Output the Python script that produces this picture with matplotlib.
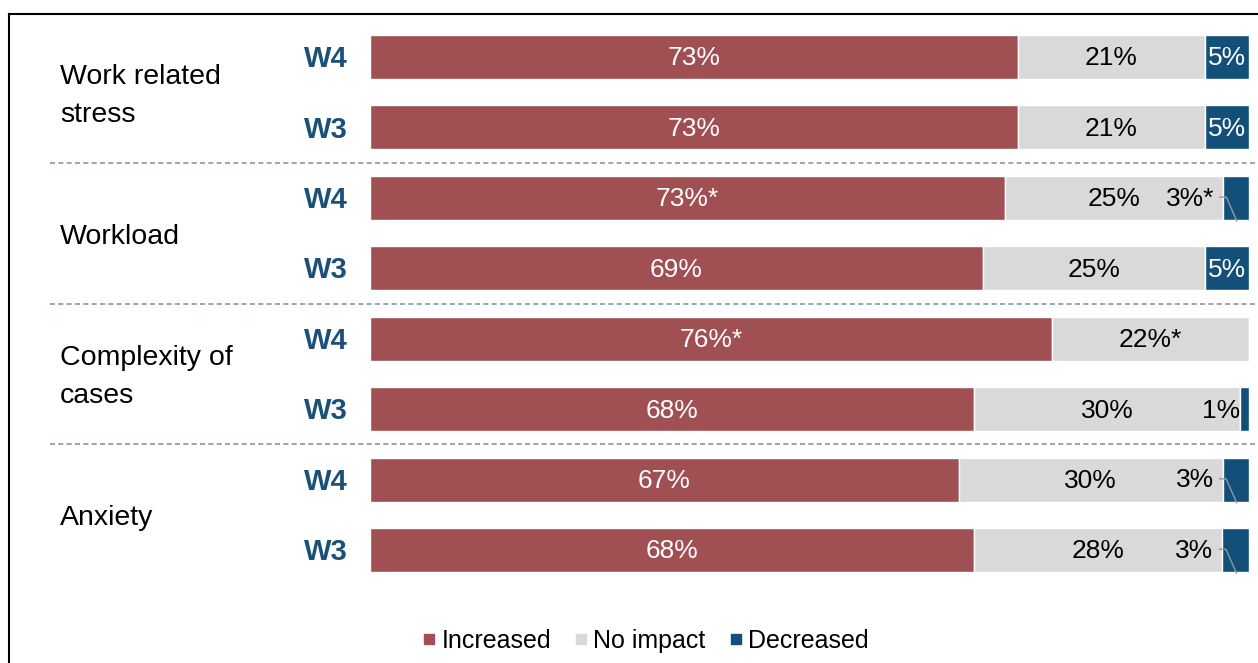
import matplotlib
matplotlib.use("Agg")
import matplotlib.pyplot as plt
import numpy as np
from matplotlib.transforms import blended_transform_factory
from matplotlib.lines import Line2D

plt.rcParams['font.family'] = ['Liberation Sans', 'DejaVu Sans']

categories = ["Work related\nstress", "Workload", "Complexity of\ncases", "Anxiety"]
waves = ["W4", "W3"]
increased = [73, 73, 73, 69, 76, 68, 67, 68]
no_impact = [21, 21, 25, 25, 22, 30, 30, 28]
decreased = [5, 5, 3, 5, 0, 1, 3, 3]
inc_labels = ["73%", "73%", "73%*", "69%", "76%*", "68%", "67%", "68%"]
noi_labels = ["21%", "21%", "25%", "25%", "22%*", "30%", "30%", "28%"]
dec_labels = ["5%", "5%", "3%*", "5%", "", "1%", "3%", "3%"]

RED = "#A05053"
GRAY = "#D9D9D9"
BLUE = "#12507A"
WCOL = "#1B5079"

W, H = 1258, 663
fig = plt.figure(figsize=(W / 100, H / 100), dpi=100)
top_px, bot_px = 21.8, 585.2
ax = fig.add_axes([370 / W, (H - bot_px) / H, (1249 - 370) / W, (bot_px - top_px) / H])

inc = np.array(increased, float)
noi = np.array(no_impact, float)
dec = np.array(decreased, float)
tot = inc + noi + dec
inc_p, noi_p, dec_p = inc / tot * 100, noi / tot * 100, dec / tot * 100
y = np.arange(len(inc))
bh = 0.625

ax.barh(y, inc_p, height=bh, color=RED, edgecolor="white", linewidth=1)
ax.barh(y, noi_p, left=inc_p, height=bh, color=GRAY, edgecolor="white", linewidth=1)
ax.barh(y, dec_p, left=inc_p + noi_p, height=bh, color=BLUE, edgecolor="white", linewidth=1)

fs = 19
for i in range(len(y)):
    ax.text(inc_p[i] / 2, y[i] + 0.02, inc_labels[i], color="white", ha="center", va="center", fontsize=fs)
    ax.text(inc_p[i] + noi_p[i] / 2, y[i] + 0.02, noi_labels[i], color="black", ha="center", va="center", fontsize=fs)
    if not dec_labels[i]:
        continue
    start = inc_p[i] + noi_p[i]
    if dec[i] >= 5:
        ax.text(start + dec_p[i] / 2, y[i] + 0.02, dec_labels[i], color="white", ha="center", va="center", fontsize=fs)
    elif dec[i] <= 1:
        ax.text(start, y[i] + 0.02, dec_labels[i], color="black", ha="right", va="center", fontsize=fs)
    else:
        ax.text(start - 1.0, y[i] + 0.01, dec_labels[i], color="black", ha="right", va="center", fontsize=fs)
        ax.plot([start - 0.35, start + 0.4, start + dec_p[i] / 2 + 0.1],
                [y[i] - 0.01, y[i] - 0.01, y[i] + 0.33],
                color="#999999", lw=1, clip_on=False, zorder=5)

ax.set_xlim(0, 100)
ax.set_ylim(len(y) - 0.5, -0.5)
ax.axis("off")

tr = blended_transform_factory(fig.transFigure, ax.transData)
for i in range(len(y)):
    ax.text(348 / W, y[i] + 0.03, waves[i % 2], transform=tr, ha="right", va="center",
            fontsize=21, fontweight="bold", color=WCOL)
for k, c in enumerate(categories):
    ax.text(60 / W, 2 * k + 0.55, c, transform=tr, ha="left", va="center",
            fontsize=20.5, linespacing=1.6, color="black")
for k in range(1, len(categories)):
    ax.add_line(Line2D([50 / W, 1.0], [2 * k - 0.5, 2 * k - 0.5], transform=tr,
                       color="#7F99AC", lw=1.2, ls=(0, (3, 2)), clip_on=False))

# frame
fig.add_artist(Line2D([9 / W, 9 / W], [0, 1 - 14 / H], transform=fig.transFigure, color="black", lw=1.5))
fig.add_artist(Line2D([9 / W, 1], [1 - 14 / H, 1 - 14 / H], transform=fig.transFigure, color="black", lw=1.5))

handles = [Line2D([], [], marker="s", ls="", color=c, markersize=7.5) for c in (RED, GRAY, BLUE)]
fig.legend(handles, ["Increased", "No impact", "Decreased"], loc="center",
           bbox_to_anchor=(645 / W, 1 - 641 / H), ncol=3, frameon=False, fontsize=18,
           handlelength=0.6, handletextpad=0.2, columnspacing=0.9)

fig.savefig("out.png", dpi=100)
